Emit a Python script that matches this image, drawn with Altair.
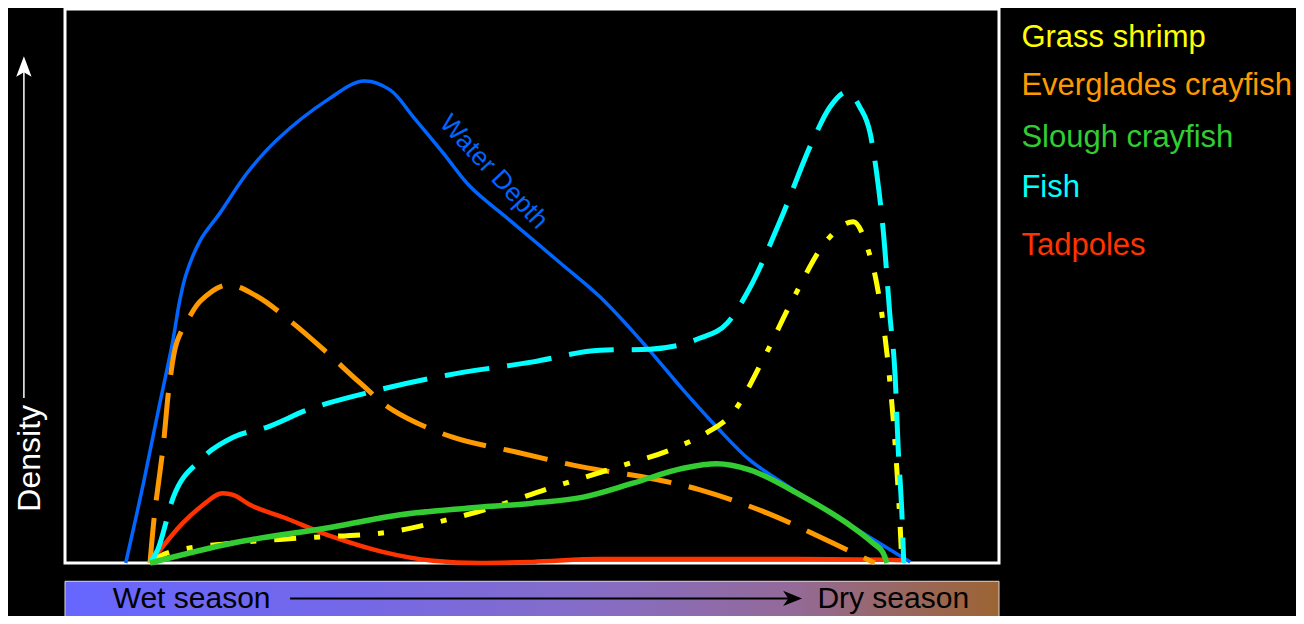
import altair as alt
import pandas as pd

# ---------------- data (x: progress through season 0-100, y: relative density 0-100)
water_x = [6.5, 8.4, 10.0, 11.5, 12.3, 13.0, 14.5, 16.6, 19.5, 22.7, 28.1, 31.9, 34.8, 37.3, 40.5, 43.4,
           47.6, 53.0, 57.3, 61.9, 66.2, 69.8, 73.3, 76.9, 83.7, 90.5]
water_y = [0, 14.4, 27.6, 39.7, 47.5, 52.3, 58.3, 63.2, 70.4, 76.4, 83.6, 87.0, 85.4, 80.5, 74.0, 67.9,
           61.9, 54.2, 48.0, 39.7, 31.2, 24.5, 18.6, 14.4, 7.2, 0.2]

evg_x = [9.1, 9.6, 10.5, 11.2, 12.0, 13.4, 14.5, 17.3, 20.5, 24.4, 28.1, 31.6, 35.1, 41.5, 48.4, 55.5,
         62.6, 68.0, 75.2, 82.2, 86.7]
evg_y = [0, 9.0, 20.9, 32.5, 40.0, 44.6, 47.3, 50.2, 48.2, 43.3, 37.9, 32.5, 27.6, 22.7, 20.0, 17.3,
         15.3, 13.2, 9.0, 3.6, 0]

fish_x = [9.1, 9.9, 11.6, 14.5, 18.0, 21.6, 25.9, 32.3, 40.9, 50.1, 57.3, 62.6, 68.0, 70.9, 73.3,
          76.6, 80.1, 81.9, 83.7, 85.1, 86.2, 86.9, 87.6, 88.3, 88.9, 89.2, 89.6, 89.8]
fish_y = [0, 2.3, 11.9, 18.6, 22.7, 24.5, 27.6, 30.7, 33.9, 36.3, 38.4, 38.6, 40.6, 43.3, 49.6,
          61.9, 76.4, 82.3, 85.0, 82.3, 77.6, 70.4, 60.1, 45.1, 33.0, 20.9, 9.0, 0]

shrimp_x = [9.1, 10.9, 18.0, 25.2, 34.8, 39.4, 44.1, 51.9, 58.7, 65.5, 68.7, 71.5, 74.7, 77.9,
            81.6, 84.4, 85.9, 86.9, 88.3, 88.9, 89.4, 89.6]
shrimp_y = [0, 1.8, 3.6, 4.5, 5.6, 7.2, 9.2, 13.5, 17.1, 20.9, 23.5, 27.1, 36.6, 47.5,
            58.3, 61.6, 57.0, 50.5, 33.0, 20.9, 7.2, 0]

slough_x = [9.1, 18.0, 28.7, 35.9, 43.0, 50.1, 55.5, 60.8, 66.2, 69.8, 73.3, 78.7, 83.7, 86.5, 87.6, 88.0]
slough_y = [0, 3.6, 6.5, 8.7, 9.9, 10.8, 11.9, 14.4, 17.1, 17.9, 16.8, 12.3, 7.2, 3.6, 1.8, 0]

tad_x = [9.1, 9.6, 12.6, 14.5, 16.9, 18.0, 19.8, 23.3, 28.7, 34.0, 39.4, 44.4, 50.1, 57.3, 68.0, 78.7, 89.7]
tad_y = [0, 1.1, 7.2, 10.1, 12.6, 12.3, 10.5, 8.3, 4.7, 2.0, 0.4, 0, 0.2, 0.7, 0.7, 0.7, 0.5]

legend_labels = ["Grass shrimp", "Everglades crayfish", "Slough crayfish", "Fish", "Tadpoles"]
legend_colors = ["#FFFF00", "#FF9900", "#33CC33", "#00FFFF", "#FF3300"]

FONT = "Liberation Sans"
XS = alt.Scale(domain=[0, 100], nice=False, zero=False)
YS = alt.Scale(domain=[0, 100], nice=False, zero=False)


def enc(chart):
    return chart.encode(
        x=alt.X("x:Q", scale=XS, axis=None),
        y=alt.Y("y:Q", scale=YS, axis=None),
    )


def line(xs, ys, color, width, dash=None, interp="monotone"):
    kw = dict(color=color, strokeWidth=width, interpolate=interp)
    if dash:
        kw["strokeDash"] = dash
    return enc(alt.Chart(pd.DataFrame({"x": xs, "y": ys})).mark_line(**kw))


def text(label, x, y, color, size, **kw):
    df = pd.DataFrame({"x": [x], "y": [y], "t": [label]})
    return enc(alt.Chart(df).mark_text(color=color, fontSize=size, font=FONT, **kw)).encode(text="t:N")


layers = [
    line(tad_x, tad_y, "#FF3300", 4.5),
    line(water_x, water_y, "#0066FF", 3.5, interp="catmull-rom"),
    line(evg_x, evg_y, "#FF9900", 5, [45, 18], interp="catmull-rom"),
    line(shrimp_x, shrimp_y, "#FFFF00", 5, [22, 18, 6, 18]),
    line(fish_x, fish_y, "#00FFFF", 5, [45, 18]),
    line(slough_x, slough_y, "#33CC33", 5.5),
    text("Water Depth", 45.9, 70.6, "#0066FF", 26, angle=47, align="center", baseline="middle"),
]

# legend labels
legend_y = [93.1, 84.5, 75.1, 66.1, 55.6]
for lab, col, ly in zip(legend_labels, legend_colors, legend_y):
    layers.append(text(lab, 102.4, ly, col, 31, align="left", baseline="alphabetic"))

# y-axis label with arrow
layers.append(text("Density", -2.68, 18.9, "white", 32, angle=270, align="center", baseline="alphabetic"))
layers.append(alt.Chart(pd.DataFrame({"x": [-4.4], "y": [29.8], "y2": [89.5]})).mark_rule(
    color="white", strokeWidth=1.5).encode(
    x=alt.X("x:Q", scale=XS, axis=None), y=alt.Y("y:Q", scale=YS, axis=None), y2="y2:Q"))
layers.append(enc(alt.Chart(pd.DataFrame({"x": [-4.4], "y": [89.6]})).mark_point(
    shape="M0,-1L0.75,1L0,0.55L-0.75,1Z", filled=True, fill="white", color="white",
    opacity=1, size=420, strokeWidth=0)))

# season gradient bar
grad = alt.Gradient(
    gradient="linear", x1=0, x2=1, y1=0, y2=0,
    stops=[
        alt.GradientStop(color="#6666FF", offset=0),
        alt.GradientStop(color="#7468E8", offset=0.3),
        alt.GradientStop(color="#846CC8", offset=0.55),
        alt.GradientStop(color="#946A98", offset=0.78),
        alt.GradientStop(color="#9A6656", offset=0.92),
        alt.GradientStop(color="#9C6432", offset=1),
    ],
)
layers.append(alt.Chart(pd.DataFrame({"x": [0], "x2": [100], "y": [-3.3], "y2": [-10.8]})).mark_rect(
    fill=grad, stroke="#d8d8d8", strokeWidth=1).encode(
    x=alt.X("x:Q", scale=XS, axis=None), x2="x2:Q",
    y=alt.Y("y:Q", scale=YS, axis=None), y2="y2:Q"))
layers.append(text("Wet season", 5.1, -8.1, "black", 30, align="left", baseline="alphabetic"))
layers.append(text("Dry season", 96.8, -8.1, "black", 30, align="right", baseline="alphabetic"))
layers.append(alt.Chart(pd.DataFrame({"x": [24.1], "x2": [77.5], "y": [-6.4]})).mark_rule(
    color="black", strokeWidth=2).encode(
    x=alt.X("x:Q", scale=XS, axis=None), x2="x2:Q", y=alt.Y("y:Q", scale=YS, axis=None)))
layers.append(enc(alt.Chart(pd.DataFrame({"x": [77.9], "y": [-6.4]})).mark_point(
    shape="M1,0L-1,-0.8L-0.45,0L-1,0.8Z", filled=True, fill="black", color="black",
    opacity=1, size=360, strokeWidth=0)))

chart = alt.layer(*layers).properties(
    width=934, height=554,
    padding={"left": 57, "top": 1, "right": 297, "bottom": 53},
    autosize=alt.AutoSizeParams(type="none"),
).configure(background="black").configure_view(stroke="white", strokeWidth=3)

chart.save("out.html", embed_options={"renderer": "svg", "actions": False})
